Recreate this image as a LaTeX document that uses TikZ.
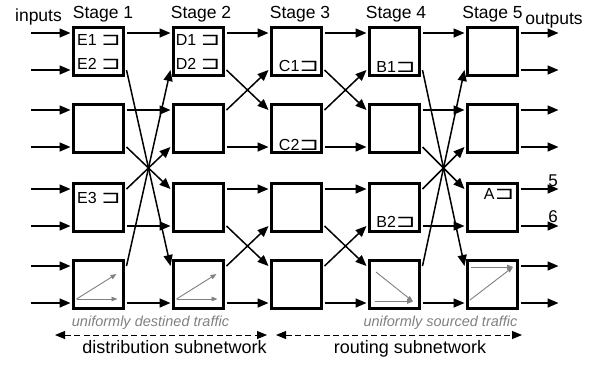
\documentclass[tikz,border=0pt]{standalone}
\usepackage{fontspec}
\setmainfont{Liberation Sans}
\newfontfamily\symfont{DejaVu Sans}
\usetikzlibrary{arrows.meta,calc}
\newcommand\sqmark{\scalebox{1.3}[1]{\symfont\fontsize{18}{20}\selectfont ⊐}}
\begin{document}
\begin{tikzpicture}[x=1pt,y=-1pt,
  box/.style={draw, line width=3pt, minimum width=50pt, minimum height=48pt,
    inner sep=0pt, outer sep=0pt},
  link/.style={line width=1.5pt, -{Triangle[length=11pt,width=9pt]}},
  traffic/.style={draw=black!50, line width=0.9pt, -{Triangle[length=6pt,width=4.5pt]}},
  span/.style={line width=0.9pt, dash pattern=on 6pt off 3.5pt,
    {Triangle[length=10pt,width=8pt]}-{Triangle[length=10pt,width=8pt]}},
  lbl/.style={anchor=base, inner sep=0pt, font=\fontsize{16}{18}\selectfont},
  stagelbl/.style={anchor=base, inner sep=0pt, font=\fontsize{17.5}{19}\selectfont},
  netlbl/.style={anchor=base, inner sep=0pt, font=\fontsize{18}{20}\selectfont},
  traflbl/.style={anchor=base, inner sep=0pt, text=black!50,
    font=\fontsize{14.5}{16}\selectfont\itshape},
]
\useasboundingbox (0,0) rectangle (599,365);

% switch boxes and their ports
\foreach \cc/\xx in {1/98.5,2/198.5,3/296.5,4/394.5,5/492.5}
  \foreach \rr/\yy in {1/51.5,2/128.5,3/207.5,4/284.5} {
    \node[box] (s\cc-\rr) at (\xx,\yy) {};
    \coordinate (s\cc-\rr i0) at ($(s\cc-\rr.west)+(-3,-18.5)$);
    \coordinate (s\cc-\rr i1) at ($(s\cc-\rr.west)+(-3,18.5)$);
    \coordinate (s\cc-\rr o0) at ($(s\cc-\rr.east)+(3,-18.5)$);
    \coordinate (s\cc-\rr o1) at ($(s\cc-\rr.east)+(3,18.5)$);
  }
\foreach \rr in {1,2,3,4} {
  \coordinate (in\rr a) at ($(s1-\rr i0)+(-40,0)$);
  \coordinate (in\rr b) at ($(s1-\rr i1)+(-40,0)$);
  \coordinate (out\rr a) at ($(s5-\rr o0)+(38,0)$);
  \coordinate (out\rr b) at ($(s5-\rr o1)+(38,0)$);
}

% network inputs and outputs
\foreach \rr in {1,2,3,4} {
  \draw[link] (in\rr a) -- (s1-\rr i0);
  \draw[link] (in\rr b) -- (s1-\rr i1);
  \draw[link] (s5-\rr o0) -- (out\rr a);
  \draw[link] (s5-\rr o1) -- (out\rr b);
}

% stages 1->2 and 4->5: long-range butterfly
\foreach \aa/\bb in {1/2,4/5} {
  \draw[link] (s\aa-1o0) -- (s\bb-1i0);
  \draw[link] (s\aa-1o1) -- (s\bb-4i0);
  \draw[link] (s\aa-2o0) -- (s\bb-2i0);
  \draw[link] (s\aa-2o1) -- (s\bb-3i0);
  \draw[link] (s\aa-3o0) -- (s\bb-2i1);
  \draw[link] (s\aa-3o1) -- (s\bb-3i1);
  \draw[link] (s\aa-4o0) -- (s\bb-1i1);
  \draw[link] (s\aa-4o1) -- (s\bb-4i1);
}
% stages 2->3 and 3->4: neighbour exchange
\foreach \aa/\bb in {2/3,3/4} {
  \draw[link] (s\aa-1o0) -- (s\bb-1i0);
  \draw[link] (s\aa-1o1) -- (s\bb-2i0);
  \draw[link] (s\aa-2o0) -- (s\bb-1i1);
  \draw[link] (s\aa-2o1) -- (s\bb-2i1);
  \draw[link] (s\aa-3o0) -- (s\bb-3i0);
  \draw[link] (s\aa-3o1) -- (s\bb-4i0);
  \draw[link] (s\aa-4o0) -- (s\bb-3i1);
  \draw[link] (s\aa-4o1) -- (s\bb-4i1);
}

% traffic patterns inside the bottom switches
\foreach \cc in {1,2} {
  \coordinate (t\cc o) at ($(s\cc-4)+(-22,14.5)$);
  \coordinate (t\cc h) at ($(s\cc-4)+(19,14.5)$);
  \coordinate (t\cc d) at ($(s\cc-4)+(18,-10.5)$);
  \draw[traffic] (t\cc o) -- (t\cc h);
  \draw[traffic] (t\cc o) -- (t\cc d);
}
\coordinate (t4a) at ($(s4-4)+(-18.5,-12.5)$);
\coordinate (t4b) at ($(s4-4)+(-19.5,17)$);
\coordinate (t4e) at ($(s4-4)+(18.5,17)$);
\draw[traffic] (t4a) -- (t4e);
\draw[traffic] (t4b) -- (t4e);
\coordinate (t5a) at ($(s5-4)+(-21.5,-17.5)$);
\coordinate (t5b) at ($(s5-4)+(-22.5,15.5)$);
\coordinate (t5e) at ($(s5-4)+(20.5,-17.5)$);
\draw[traffic] (t5a) -- (t5e);
\draw[traffic] (t5b) -- (t5e);

% buffer labels
\node[lbl] (e1) at (99,45) {E1 \sqmark};
\node[lbl] (e2) at (99,69) {E2 \sqmark};
\node[lbl] (e3) at (99,203) {E3 \sqmark};
\node[lbl] (d1) at (198,45) {D1 \sqmark};
\node[lbl] (d2) at (198,69) {D2 \sqmark};
\node[lbl] (c1) at (299,71) {C1\sqmark};
\node[lbl] (c2) at (299,150) {C2\sqmark};
\node[lbl] (b1) at (396,72) {B1\sqmark};
\node[lbl] (b2) at (396,227) {B2\sqmark};
\node[lbl] (a) at (499,199) {A\sqmark};

% headings
\node[stagelbl] (st1) at (103,18) {Stage 1};
\node[stagelbl] (st2) at (201,18) {Stage 2};
\node[stagelbl] (st3) at (300,18) {Stage 3};
\node[stagelbl] (st4) at (396,18) {Stage 4};
\node[stagelbl] (st5) at (492.5,18) {Stage 5};
\node[stagelbl] (inl) at (38.5,21.5) {inputs};
\node[stagelbl] (outl) at (554,24) {outputs};
\node[lbl, font=\fontsize{17}{19}\selectfont] (five) at (553,186) {5};
\node[lbl, font=\fontsize{17}{19}\selectfont] (six) at (553,222) {6};

% traffic captions
\node[traflbl] (ud) at (150.5,326) {uniformly destined traffic};
\node[traflbl] (us) at (440.5,326) {uniformly sourced traffic};

% subnetwork spans
\coordinate (dl) at (55,335);
\coordinate (dr) at (267,335);
\coordinate (rl) at (276,335);
\coordinate (rr) at (522,335);
\draw[span] (dl) -- (dr);
\draw[span] (rl) -- (rr);
\node[netlbl] (dist) at (174.5,353) {distribution subnetwork};
\node[netlbl] (rout) at (410,353) {routing subnetwork};
\end{tikzpicture}
\end{document}
